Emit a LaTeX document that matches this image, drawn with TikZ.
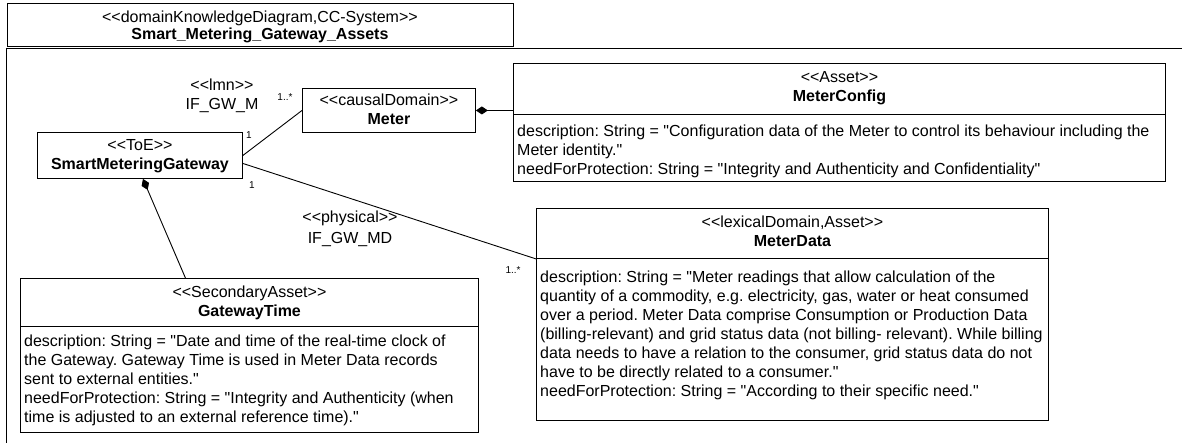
\documentclass[tikz,border=0pt]{standalone}
\usepackage{fontspec}
\newfontfamily\umlfont{Liberation Sans}
\usetikzlibrary{arrows.meta}
\frenchspacing
\begin{document}
\begin{tikzpicture}[x=1pt,y=-1pt,
  font=\umlfont\fontsize{16}{19}\selectfont,
  box/.style={draw=black, line width=0.9pt, inner sep=0pt, anchor=north west},
  lbl/.style={inner sep=0pt, anchor=base},
  bodytxt/.style={inner sep=0pt, anchor=base west},
  bold/.style={font=\umlfont\fontsize{16}{19}\selectfont\bfseries},
  mult/.style={inner sep=0pt, anchor=base, font=\umlfont\fontsize{10}{11}\selectfont},
  conn/.style={line width=0.9pt},
  comp/.style={conn, {Diamond[length=12pt,width=8pt]}-}
]
\useasboundingbox (0,0) rectangle (1182,442);
% frame and tab
\node[box, minimum width=506pt, minimum height=43pt] (tab) at (6.5,3) {};
\node[lbl] (tab1) at (tab.north |- 0,22.5) {<<domainKnowledgeDiagram,CC-System>>};
\node[lbl, bold] (tab2) at (tab.north |- 0,39.5) {Smart\_Metering\_Gateway\_Assets};
\coordinate (fbl) at (6.5,445);
\coordinate (ftl) at (6.5,48.5);
\coordinate (ftr) at (1185,48.5);
\draw[line width=1.3pt] (fbl) -- (ftl) -- (ftr);

% SmartMeteringGateway
\node[box, minimum width=205pt, minimum height=46pt] (smg) at (37,132) {};
\node[lbl] (smg1) at (smg.north |- 0,150.5) {<<ToE>>};
\node[lbl, bold] (smg2) at (smg.north |- 0,169.5) {SmartMeteringGateway};

% Meter
\node[box, minimum width=173pt, minimum height=44pt] (meter) at (302,88) {};
\node[lbl] (meter1) at (meter.north |- 0,105.5) {<<causalDomain>>};
\node[lbl, bold] (meter2) at (meter.north |- 0,124.5) {Meter};

% MeterConfig
\node[box, minimum width=652pt, minimum height=51pt] (mch) at (513,63) {};
\node[box, minimum width=652pt, minimum height=67pt] (mcb) at (513,114) {};
\node[lbl] (mc1) at (mch.north |- 0,82.5) {<<Asset>>};
\node[lbl, bold] (mc2) at (mch.north |- 0,101.5) {MeterConfig};
\foreach \t [count=\i from 0] in {
  {description: String = "Configuration data of the Meter to control its behaviour including the},
  {Meter identity."},
  {needForProtection: String = "Integrity and Authenticity and Confidentiality"}}
  \node[bodytxt] (mcl\i) at (517,136.5+19*\i) {\t};

% MeterData
\node[box, minimum width=512pt, minimum height=50pt] (mdh) at (536,208) {};
\node[box, minimum width=512pt, minimum height=162pt] (mdb) at (536,258) {};
\node[lbl] (md1) at (mdh.north |- 0,227.5) {<<lexicalDomain,Asset>>};
\node[lbl, bold] (md2) at (mdh.north |- 0,246.5) {MeterData};
\foreach \t [count=\i from 0] in {
  {description: String = "Meter readings that allow calculation of the},
  {quantity of a commodity, e.g. electricity, gas, water or heat consumed},
  {over a period. Meter Data comprise Consumption or Production Data},
  {(billing-relevant) and grid status data (not billing- relevant). While billing},
  {data needs to have a relation to the consumer, grid status data do not},
  {have to be directly related to a consumer."},
  {needForProtection: String = "According to their specific need."}}
  \node[bodytxt] (mdl\i) at (540,282.5+19*\i) {\t};

% GatewayTime
\node[box, minimum width=458pt, minimum height=48pt] (gth) at (20,278) {};
\node[box, minimum width=458pt, minimum height=106pt] (gtb) at (20,326) {};
\node[lbl] (gt1) at (gth.north |- 0,297.5) {<<SecondaryAsset>>};
\node[lbl, bold] (gt2) at (gth.north |- 0,316.5) {GatewayTime};
\foreach \t [count=\i from 0] in {
  {description: String = "Date and time of the real-time clock of},
  {the Gateway. Gateway Time is used in Meter Data records},
  {sent to external entities."},
  {needForProtection: String = "Integrity and Authenticity (when},
  {time is adjusted to an external reference time)."}}
  \node[bodytxt] (gtl\i) at (24,346.5+19*\i) {\t};

% connectors
\draw[conn] (smg.east) -- (meter.west);
\draw[conn] ([yshift=-8pt]smg.east) -- (mdh.south west);
\draw[comp] (meter.east) -- (meter.east -| mch.west);
\draw[comp] ([xshift=3pt]smg.south) -- ([xshift=-64pt]gth.north);

% labels
\node[lbl] (lmn1) at (222,90.5) {<<lmn>>};
\node[lbl] (lmn2) at (222,109.5) {IF\_GW\_M};
\node[lbl] (phy1) at (350,222.5) {<<physical>>};
\node[lbl] (phy2) at (350,243.5) {IF\_GW\_MD};
\node[mult] (m1) at (285,100) {1..*};
\node[mult] (m2) at (249,138) {1};
\node[mult] (m3) at (252,188) {1};
\node[mult] (m4) at (513,273) {1..*};
\end{tikzpicture}
\end{document}
